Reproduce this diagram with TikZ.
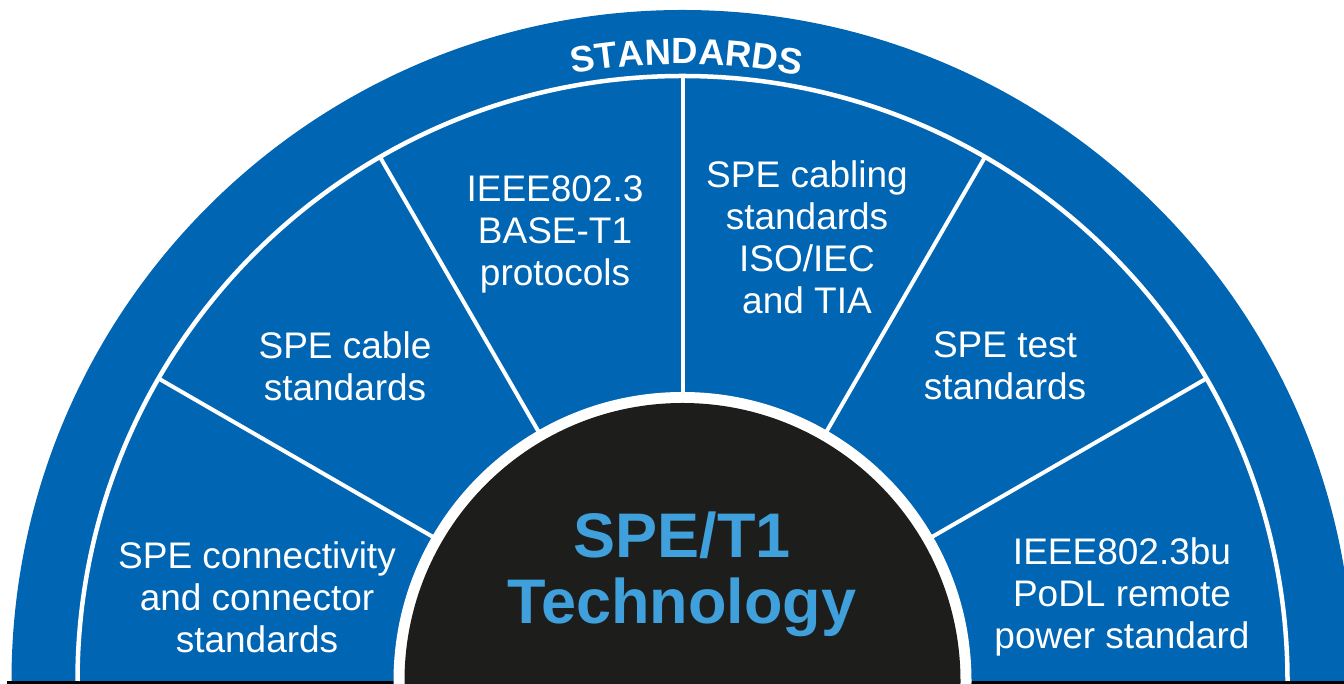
\documentclass[tikz,border=0pt]{standalone}
\usepackage{fontspec}
\setmainfont{Liberation Sans}
\usetikzlibrary{decorations.text,calc}
\definecolor{speblue}{RGB}{0,101,179}
\definecolor{spedark}{RGB}{29,29,27}
\definecolor{spelight}{RGB}{64,160,220}
\definecolor{baseline}{RGB}{120,120,120}
\tikzset{
  sectortext/.style={text=white, align=center, inner sep=0pt,
    font=\fontsize{37}{42}\selectfont},
  coretext/.style={text=spelight, align=center, inner sep=0pt,
    font=\bfseries\fontsize{63}{66}\selectfont},
  spoke/.style={white, line width=4pt},
}
\begin{document}
\begin{tikzpicture}[x=1pt,y=1pt]
\useasboundingbox (0,0) rectangle (1344,684);
\clip (0,0) rectangle (1344,684);
\fill[white] (0,0) rectangle (1344,684);
\coordinate (C) at (682.5,3);
\fill[baseline] (7,0) rectangle (1344,2.5);
\fill[speblue] (C) ++(671,0) arc[start angle=0,end angle=180,radius=671] -- cycle;
\draw[white, line width=4.5pt] (C) ++(605,0) arc[start angle=0,end angle=180,radius=605];
\foreach \a in {30,60,90,120,150} {
  \coordinate (in\a) at ($(C)+(\a:283)$);
  \coordinate (out\a) at ($(C)+(\a:605)$);
}
\foreach \a in {30,60,90,120,150} \draw[spoke] (in\a) -- (out\a);
\fill[white] (C) circle (289);
\fill[spedark] (C) circle (278);
\path[decorate, decoration={text along path, text align=center, text color=white,
  text={|\bfseries\fontsize{36.5}{40}\selectfont|STANDARDS}}]
  (C) ++(104.6:617) arc[start angle=104.6, end angle=74.6, radius=617];
\node[sectortext] (n1) at (257,87) {SPE connectivity\\and connector\\standards};
\node[sectortext] (n2) at (345,318) {SPE cable\\standards};
\node[sectortext] (n3) at (555,450) {IEEE802.3\\BASE-T1\\protocols};
\node[sectortext] (n4) at (807,447) {SPE cabling\\standards\\ISO/IEC\\and TIA};
\node[sectortext] (n5) at (1005,318) {SPE test\\standards};
\node[sectortext] (n6) at (1122,87) {IEEE802.3bu\\PoDL remote\\power standard};
\node[coretext] (core) at (682,110) {SPE/T1\\Technology};
\end{tikzpicture}
\end{document}
